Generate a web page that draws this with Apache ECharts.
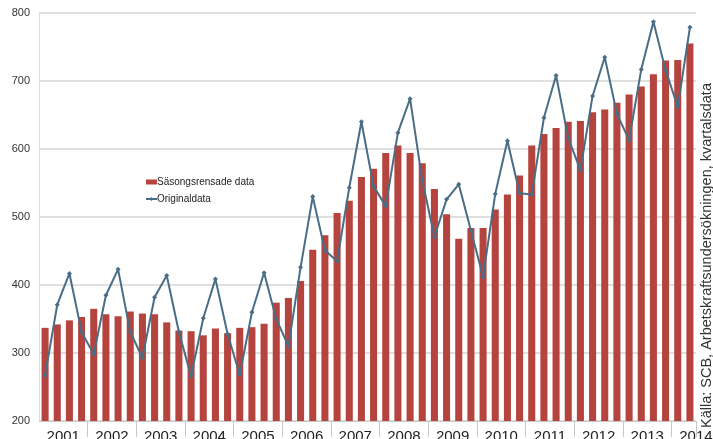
<!DOCTYPE html>
<html>
<head>
<meta charset="utf-8">
<script src="https://cdn.jsdelivr.net/npm/echarts@6/dist/echarts.min.js"></script>
<style>
  html, body { margin: 0; padding: 0; background: #fff; }
  #chart { width: 713px; height: 439px; }
</style>
</head>
<body>
<div id="chart"></div>
<script>
// år och kvartal (2001 K1 - 2014 K2)
const years = ['2001', '2002', '2003', '2004', '2005', '2006', '2007', '2008', '2009', '2010', '2011', '2012', '2013', '2014'];
const quartersPerYear = [4, 4, 4, 4, 4, 4, 4, 4, 4, 4, 4, 4, 4, 2];

// säsongsrensade data (staplar)
const sasongsrensade = [
  337, 342, 348, 353,
  365, 357, 354, 361,
  358, 357, 345, 333,
  332, 326, 336, 329,
  337, 338, 343, 374,
  381, 406, 452, 473,
  506, 524, 559, 571,
  594, 605, 594, 579,
  541, 504, 468, 484,
  484, 511, 533, 561,
  605, 622, 631, 640,
  641, 654, 658, 668,
  680, 692, 710, 730,
  731, 755
];

// originaldata (linje)
const originaldata = [
  267, 371, 417, 331,
  298, 385, 423, 331,
  293, 382, 414, 331,
  266, 351, 409, 328,
  268, 360, 418, 350,
  310, 426, 530, 451,
  435, 543, 640, 545,
  516, 624, 674, 554,
  471, 526, 548, 480,
  412, 534, 612, 535,
  533, 646, 708, 616,
  569, 678, 735, 652,
  613, 717, 787, 716,
  662, 779
];

const yTicks = [200, 300, 400, 500, 600, 700, 800];

// kategorier: ett per kvartal
const categories = [];
years.forEach(function (y, i) {
  for (let q = 1; q <= quartersPerYear[i]; q++) categories.push(y + ' K' + q);
});

const chart = echarts.init(document.getElementById('chart'));

const option = {
  animation: false,
  textStyle: { fontFamily: 'Liberation Sans, Arial, sans-serif' },
  grid: { left: 39, right: 17, top: 13, bottom: 18, containLabel: false, outerBoundsMode: 'none' },
  legend: {
    orient: 'vertical',
    left: 140,
    top: 172,
    itemGap: 7,
    itemWidth: 11,
    itemHeight: 5,
    textStyle: { fontSize: 10, color: '#222', padding: [0, 0, 0, -5] },
    data: [
      { name: 'Säsongsrensade data', icon: 'rect', itemStyle: { color: '#b6443e' } },
      { name: 'Originaldata' }
    ]
  },
  xAxis: {
    type: 'category',
    data: categories,
    boundaryGap: true,
    axisLine: { show: true, lineStyle: { color: '#c8c8c8', width: 1 } },
    axisTick: {
      show: true,
      length: 16,
      lineStyle: { color: '#c8c8c8' },
      interval: function (i) { return i % 4 === 0 && i > 0; }
    },
    axisLabel: {
      interval: function (i) { return i % 4 === 1; },
      formatter: function (v) { return v.slice(0, 4); },
      fontSize: 15,
      color: '#222',
      margin: 8,
      padding: [0, 0, 0, 12],
      hideOverlap: false
    },
    splitLine: { show: false }
  },
  yAxis: {
    type: 'value',
    min: yTicks[0],
    max: yTicks[yTicks.length - 1],
    interval: 100,
    axisLine: { show: true, lineStyle: { color: '#dcdcdc' } },
    axisTick: { show: false },
    axisLabel: { fontSize: 11, color: '#333', margin: 9 },
    splitLine: { show: true, lineStyle: { color: '#d6d6d6', width: 1.5 } }
  },
  series: [
    {
      name: 'Säsongsrensade data',
      type: 'bar',
      data: sasongsrensade,
      barWidth: '58%',
      itemStyle: { color: '#b6443e' },
      z: 2
    },
    {
      name: 'Originaldata',
      type: 'line',
      data: originaldata,
      symbol: 'diamond',
      symbolSize: 5,
      lineStyle: { color: '#4a6d86', width: 2 },
      itemStyle: { color: '#4a6d86' },
      z: 3
    }
  ],
  graphic: [
    {
      type: 'text',
      x: 699,
      y: 428,
      rotation: Math.PI / 2,
      style: {
        text: 'Källa: SCB, Arbetskraftsundersökningen, kvartalsdata',
        fontSize: 14.5,
        fill: '#333',
        fontFamily: 'Liberation Sans, Arial, sans-serif',
        align: 'left',
        verticalAlign: 'top'
      }
    }
  ]
};

chart.setOption(option);
</script>
</body>
</html>
